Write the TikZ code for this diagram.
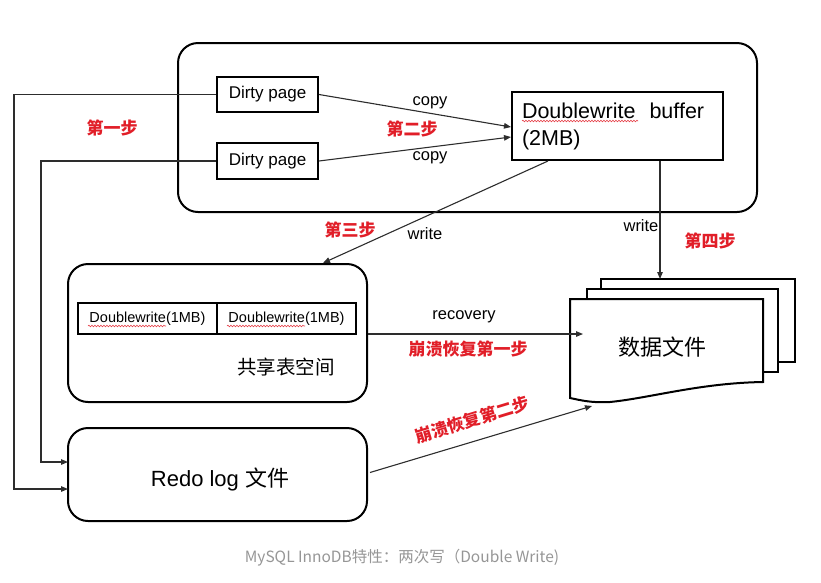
\documentclass[tikz,border=0pt]{standalone}
\usepackage{fontspec}
\setmainfont{Liberation Sans}
\newfontfamily\cjk{Noto Sans CJK SC}
\usetikzlibrary{arrows.meta,calc,decorations.pathmorphing}
\definecolor{stepred}{RGB}{225,30,40}
\definecolor{linegray}{RGB}{45,45,45}
\definecolor{capgray}{RGB}{150,150,150}
\begin{document}
\begin{tikzpicture}[x=1pt,y=-1pt,
 box/.style={draw=black,line width=2pt,fill=white,inner sep=0pt},
 rbox/.style={box,rounded corners=20pt},
 sheet/.style={draw=black,line width=2pt,fill=white},
 conn/.style={draw=linegray,line width=1.1pt},
 arr/.style={conn,-{Triangle[length=7pt,width=5.5pt]}},
 lbl/.style={font=\fontsize{16.5}{18}\selectfont,inner sep=0pt},
 steplbl/.style={font=\cjk\bfseries\fontsize{17}{19}\selectfont,text=stepred,inner sep=0pt},
 squig/.style={draw=stepred!85,line width=0.6pt,decorate,decoration={snake,amplitude=0.8pt,segment length=3pt}}
]
\useasboundingbox (0,0) rectangle (821,582);

% top container
\node[rbox, minimum width=579, minimum height=169] (top) at (467.5,127.5) {};
\node[box, minimum width=101, minimum height=35, font=\fontsize{17}{20}\selectfont] (dp1) at (267.5,94.5) {Dirty page};
\node[box, minimum width=101, minimum height=36, font=\fontsize{17}{20}\selectfont] (dp2) at (267.5,161) {Dirty page};
\node[box, minimum width=211, minimum height=68, text width=191, align=left, inner xsep=10pt, font=\fontsize{21.5}{27}\selectfont] (buf) at (617.5,126) {Doublewrite\hspace{14pt}buffer\\(2MB)};
\draw[squig] (522,121) -- (638,121);

% shared tablespace
\node[rbox, minimum width=299, minimum height=138] (shared) at (217.5,333) {};
\node[box, line width=1.8pt, minimum width=139, minimum height=31, font=\fontsize{14.5}{16}\selectfont] (c1) at (147.5,318.5) {Doublewrite(1MB)};
\node[box, line width=1.8pt, minimum width=139, minimum height=31, font=\fontsize{14.5}{16}\selectfont] (c2) at (286.5,318.5) {Doublewrite(1MB)};
\draw[squig] (88,326) -- (166,326);
\draw[squig] (227,326) -- (305,326);
\node[font=\cjk\fontsize{19.5}{22}\selectfont, inner sep=0pt] (sharedlbl) at (286,367) {共享表空间};

% redo log
\node[rbox, minimum width=299, minimum height=93] (redo) at (217.5,474.5) {};
\node[font=\fontsize{22}{24}\selectfont, inner sep=0pt] (redolbl) at (220,479) {Redo log {\cjk 文件}};

% data files
\draw[sheet] (601,279) rectangle (795,362);
\draw[sheet] (587,289) rectangle (778,372);
\draw[sheet] (570,299) -- (763,299) -- (763,382) .. controls (700,383) and (650,398) .. (610,402) .. controls (590,403) and (580,400) .. (570,398) -- cycle;
\node[font=\cjk\fontsize{22}{24}\selectfont, inner sep=0pt] (dflbl) at (662,347) {数据文件};
\coordinate (dfTop) at (660,279);
\coordinate (dfRec) at (583,334);
\coordinate (dfRedo) at (592,406);

% left lines
\coordinate (la) at (14,0);
\coordinate (lb) at (41,0);
\coordinate (r1) at (68,462);
\coordinate (r2) at (68,489);
\draw[arr] (dp1.west) -- (dp1.west -| la) -- (la |- r2) -- (r2);
\draw[arr] (dp2.west) -- (dp2.west -| lb) -- (lb |- r1) -- (r1);

% arrows
\draw[arr] (dp1.east) -- ($(buf.west)+(0,1)$);
\draw[arr] (dp2.east) -- ($(buf.west)+(0,11)$);
\draw[arr] ($(buf.south west)+(37,0)$) -- ($(shared.north east)+(-45,0)$);
\draw[arr] (buf.south -| dfTop) -- (dfTop);
\draw[arr] (shared.east |- dfRec) -- (dfRec);
\draw[arr] ($(redo.east)+(2,-2)$) -- (dfRedo);

% labels
\node[lbl] (copy1) at (430,103) {copy};
\node[lbl] (copy2) at (430,158) {copy};
\node[steplbl] (s2) at (412,129) {第二步};
\node[steplbl] (s1) at (112,128) {第一步};
\node[steplbl] (s3) at (350,230) {第三步};
\node[lbl] (w1) at (425,234) {write};
\node[lbl] (w2) at (641,226) {write};
\node[steplbl] (s4) at (710,241) {第四步};
\node[lbl] (rec) at (464,317) {recovery};
\node[steplbl] (cr1) at (468,349) {崩溃恢复第一步};
\node[steplbl, rotate=17] (cr2) at (472,420) {崩溃恢复第二步};

% caption
\node[font=\cjk\fontsize{15.5}{18}\selectfont, text=capgray, inner sep=0pt] (cap) at (402,558) {MySQL InnoDB特性：两次写（Double Write)};
\end{tikzpicture}
\end{document}
